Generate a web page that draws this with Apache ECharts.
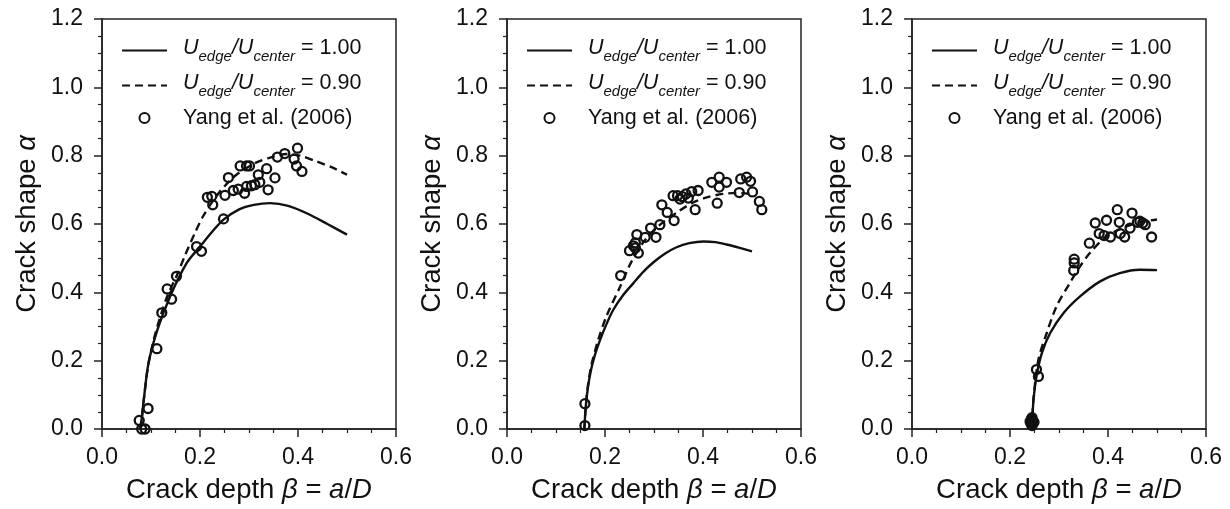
<!DOCTYPE html>
<html>
<head>
<meta charset="utf-8">
<script src="https://cdn.jsdelivr.net/npm/echarts@6/dist/echarts.min.js"></script>
<style>
html,body{margin:0;padding:0;background:#fff;}
#c{width:1230px;height:509px;}
</style>
</head>
<body>
<div id="c"></div>
<script>
// ---- data (beta = a/D, alpha = crack shape) ----
var xTicks = [0.0, 0.2, 0.4, 0.6];
var yTicks = [0.0, 0.2, 0.4, 0.6, 0.8, 1.0, 1.2];

var p1Solid = [[0.078,0],[0.081,0.03],[0.086,0.095],[0.095,0.193],[0.113,0.29],[0.139,0.388],[0.173,0.486],[0.2,0.534],[0.227,0.581],[0.248,0.613],[0.28,0.643],[0.31,0.656],[0.343,0.661],[0.38,0.653],[0.42,0.630],[0.46,0.600],[0.5,0.569]];
var p1Dash = [[0.078,0],[0.081,0.03],[0.086,0.095],[0.095,0.193],[0.111,0.29],[0.133,0.388],[0.152,0.447],[0.17,0.51],[0.19,0.575],[0.206,0.622],[0.23,0.675],[0.251,0.712],[0.275,0.745],[0.312,0.778],[0.34,0.793],[0.377,0.805],[0.404,0.80],[0.438,0.783],[0.472,0.764],[0.5,0.744]];
var p1Exp = [[0.076,0.025],[0.088,0.0],[0.081,0.0],[0.094,0.06],[0.112,0.235],[0.122,0.34],[0.133,0.41],[0.142,0.38],[0.152,0.447],[0.193,0.534],[0.203,0.52],[0.215,0.678],[0.224,0.681],[0.226,0.656],[0.248,0.615],[0.251,0.684],[0.258,0.736],[0.268,0.698],[0.278,0.702],[0.282,0.77],[0.291,0.69],[0.295,0.77],[0.301,0.77],[0.295,0.71],[0.305,0.712],[0.312,0.715],[0.319,0.744],[0.322,0.722],[0.336,0.762],[0.339,0.70],[0.353,0.735],[0.358,0.796],[0.373,0.806],[0.392,0.79],[0.399,0.822],[0.397,0.77],[0.408,0.754]];

var p2Solid = [[0.158,0],[0.159,0.03],[0.161,0.07],[0.165,0.12],[0.171,0.17],[0.179,0.215],[0.19,0.261],[0.203,0.307],[0.217,0.349],[0.236,0.39],[0.258,0.427],[0.278,0.46],[0.299,0.488],[0.322,0.513],[0.346,0.532],[0.372,0.544],[0.401,0.549],[0.425,0.547],[0.448,0.54],[0.475,0.53],[0.5,0.52]];
var p2Dash = [[0.158,0],[0.159,0.03],[0.161,0.07],[0.165,0.125],[0.172,0.185],[0.186,0.26],[0.203,0.33],[0.231,0.417],[0.254,0.49],[0.28,0.55],[0.31,0.595],[0.35,0.637],[0.38,0.663],[0.408,0.678],[0.441,0.688],[0.469,0.691],[0.5,0.688]];
var p2Exp = [[0.159,0.074],[0.159,0.01],[0.232,0.449],[0.25,0.522],[0.258,0.536],[0.262,0.53],[0.265,0.569],[0.268,0.515],[0.262,0.545],[0.282,0.561],[0.293,0.588],[0.304,0.561],[0.312,0.598],[0.316,0.656],[0.327,0.634],[0.341,0.61],[0.339,0.683],[0.348,0.683],[0.353,0.673],[0.358,0.68],[0.365,0.688],[0.37,0.676],[0.377,0.695],[0.384,0.642],[0.39,0.698],[0.418,0.722],[0.429,0.661],[0.433,0.737],[0.433,0.708],[0.448,0.722],[0.474,0.692],[0.477,0.732],[0.489,0.737],[0.497,0.725],[0.501,0.694],[0.515,0.666],[0.52,0.642]];

var p3Solid = [[0.245,0],[0.246,0.04],[0.248,0.086],[0.254,0.154],[0.265,0.222],[0.282,0.281],[0.309,0.339],[0.343,0.388],[0.384,0.432],[0.424,0.456],[0.465,0.466],[0.5,0.465]];
var p3Dash = [[0.245,0],[0.246,0.04],[0.248,0.09],[0.258,0.203],[0.275,0.281],[0.295,0.359],[0.322,0.427],[0.343,0.476],[0.363,0.515],[0.397,0.564],[0.438,0.593],[0.465,0.605],[0.5,0.613]];
var p3Exp = [[0.243,0.015],[0.245,0.025],[0.247,0.02],[0.244,0.03],[0.246,0.018],[0.241,0.022],[0.249,0.02],[0.245,0.01],[0.245,0.033],[0.254,0.174],[0.258,0.154],[0.331,0.497],[0.331,0.486],[0.33,0.464],[0.362,0.544],[0.374,0.603],[0.382,0.572],[0.392,0.566],[0.397,0.611],[0.405,0.562],[0.419,0.642],[0.423,0.605],[0.425,0.572],[0.434,0.562],[0.445,0.588],[0.449,0.632],[0.46,0.605],[0.465,0.608],[0.471,0.603],[0.476,0.598],[0.489,0.562]];

var legendRatios = ['1.00', '0.90'];
var legendExp = 'Yang et al. (2006)';

var panels = [
  {solid: p1Solid, dash: p1Dash, exp: p1Exp},
  {solid: p2Solid, dash: p2Dash, exp: p2Exp},
  {solid: p3Solid, dash: p3Dash, exp: p3Exp}
];

// ---- layout ----
var FONT = '"Liberation Sans", Arial, sans-serif';
var INK = '#111';
var gridLefts = [102, 507, 912];
var GW = 294, GTOP = 19, GH = 410;
var TICKF = 23, NAMEF = 27.5, LEGF = 21.5;

var chart = echarts.init(document.getElementById('c'), null, {renderer: 'canvas'});

var grids = [], xAxes = [], yAxes = [], series = [], legends = [];

function ratioLabel(v) {
  return '{p|}{u|U}{s|edge}{u|/U}{s|center}{n| = ' + v + '}';
}
var nameRich = {
  t: {fontSize: NAMEF, fontFamily: FONT, color: INK},
  m: {fontSize: NAMEF, fontFamily: FONT, color: INK, fontStyle: 'italic'}
};

panels.forEach(function (p, i) {
  grids.push({left: gridLefts[i], top: GTOP, width: GW, height: GH, show: true,
    borderColor: '#222', borderWidth: 1.5, containLabel: false});
  xAxes.push({
    type: 'value', gridIndex: i, min: xTicks[0], max: xTicks[xTicks.length - 1], interval: 0.2,
    axisLine: {show: true, onZero: false, lineStyle: {color: '#222', width: 1.5}},
    axisTick: {show: true, inside: false, length: 8, lineStyle: {color: '#222', width: 1.5}},
    minorTick: {show: true, splitNumber: 4, length: 4, lineStyle: {color: '#222', width: 1.2}},
    splitLine: {show: false},
    axisLabel: {margin: 17, fontSize: TICKF, fontFamily: FONT, color: INK,
      formatter: function (v) { return v.toFixed(1); }},
    name: '{t|Crack depth }{m|β}{t| = }{m|a}{t|/}{m|D}', nameLocation: 'middle', nameGap: 47,
    nameTextStyle: {fontSize: NAMEF, fontFamily: FONT, color: INK, rich: nameRich}
  });
  yAxes.push({
    type: 'value', gridIndex: i, min: yTicks[0], max: yTicks[yTicks.length - 1], interval: 0.2,
    axisLine: {show: true, onZero: false, lineStyle: {color: '#222', width: 1.5}},
    axisTick: {show: true, inside: false, length: 8, lineStyle: {color: '#222', width: 1.5}},
    minorTick: {show: true, splitNumber: 4, length: 4, lineStyle: {color: '#222', width: 1.2}},
    splitLine: {show: false},
    axisLabel: {margin: 19, fontSize: TICKF, fontFamily: FONT, color: INK,
      formatter: function (v) { return v.toFixed(1); }},
    name: '{t|Crack shape }{m|α}', nameLocation: 'middle', nameGap: 61, nameRotate: 90,
    nameTextStyle: {fontSize: NAMEF, fontFamily: FONT, color: INK, rich: nameRich}
  });
  var sName = 's' + i, dName = 'd' + i, eName = 'e' + i;
  series.push({
    name: sName, type: 'line', xAxisIndex: i, yAxisIndex: i, data: p.solid,
    symbol: 'none', smooth: 0.3, lineStyle: {color: '#111', width: 2.4, type: 'solid'},
    itemStyle: {color: '#111'}, z: 3
  });
  series.push({
    name: dName, type: 'line', xAxisIndex: i, yAxisIndex: i, data: p.dash,
    symbol: 'none', smooth: 0.3, lineStyle: {color: '#111', width: 2.4, type: [8, 5]},
    itemStyle: {color: '#111'}, z: 3
  });
  series.push({
    name: eName, type: 'scatter', xAxisIndex: i, yAxisIndex: i, data: p.exp,
    symbol: 'circle', symbolSize: 9,
    itemStyle: {color: 'rgba(255,255,255,0)', borderColor: '#111', borderWidth: 2.3, opacity: 1}, z: 4
  });
  legends.push({
    show: true, left: gridLefts[i] + 19, top: 37, orient: 'vertical', padding: 0,
    itemWidth: 45, itemHeight: 10, itemGap: 8, selectedMode: false,
    data: [
      {name: sName, itemStyle: {opacity: 0}},
      {name: dName, itemStyle: {opacity: 0}},
      {name: eName}
    ],
    textStyle: {fontSize: LEGF, fontFamily: FONT, color: INK,
      rich: {
        p: {width: 11},
        u: {fontStyle: 'italic', fontSize: LEGF, fontFamily: FONT, color: INK, padding: [0, 0, 5, 0], verticalAlign: 'bottom'},
        s: {fontStyle: 'italic', fontSize: 15, fontFamily: FONT, color: INK, verticalAlign: 'bottom'},
        n: {fontSize: LEGF, fontFamily: FONT, color: INK, padding: [0, 0, 5, 0], verticalAlign: 'bottom'},
        y: {fontSize: LEGF, fontFamily: FONT, color: INK}
      }},
    formatter: function (name) {
      var k = name.charAt(0);
      if (k === 's') return ratioLabel(legendRatios[0]);
      if (k === 'd') return ratioLabel(legendRatios[1]);
      return '{p|}{y|' + legendExp + '}';
    }
  });
});

chart.setOption({
  backgroundColor: '#fff',
  animation: false,
  grid: grids,
  xAxis: xAxes,
  yAxis: yAxes,
  legend: legends,
  series: series
});
</script>
</body>
</html>
